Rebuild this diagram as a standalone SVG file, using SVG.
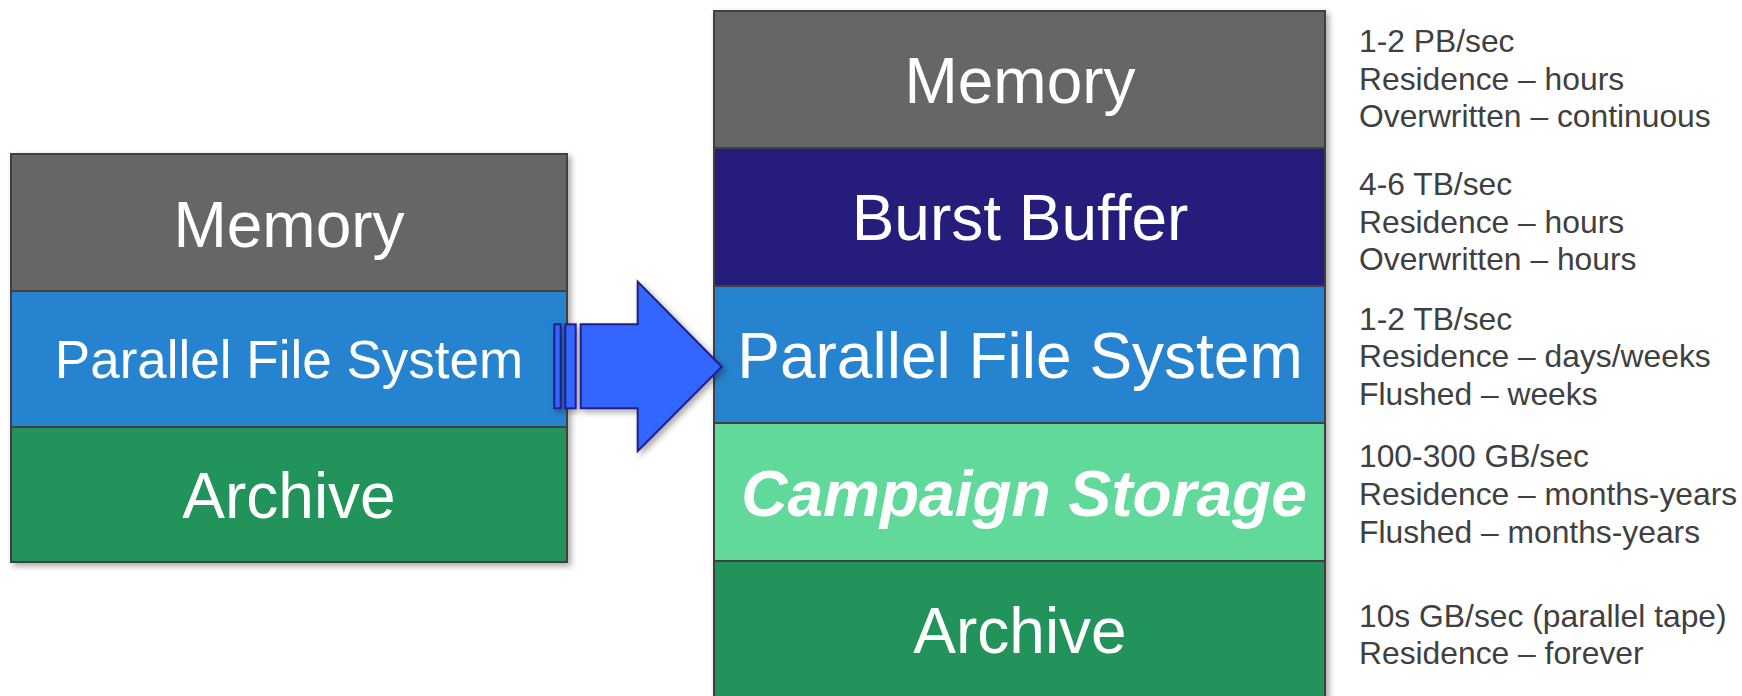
<svg xmlns="http://www.w3.org/2000/svg" width="1742" height="696" viewBox="0 0 1742 696">
  <defs>
    <filter id="shadow" x="-10%" y="-10%" width="120%" height="120%">
      <feDropShadow dx="3" dy="3" stdDeviation="3" flood-color="#000" flood-opacity="0.35"/>
    </filter>
  </defs>
  <style>
    .layer { stroke: #404040; stroke-width: 2; }
    .mem { fill: #666666; }
    .bb { fill: #251c7b; }
    .pfs { fill: #2883d0; }
    .cs { fill: #60d99a; }
    .arc { fill: #21935a; }
    .lbl { font-family: "Liberation Sans", Arial, sans-serif; fill: #ffffff; text-anchor: middle; }
    .big { font-size: 64px; }
    .mid { font-size: 53px; }
    .ital { font-weight: bold; font-style: italic; }
    .note { font-family: "Liberation Sans", Arial, sans-serif; font-size: 31.8px; fill: #404040; }
    .arrow { fill: #3366ff; stroke: #231f8c; stroke-width: 2; }
  </style>
  <rect width="1742" height="696" fill="#ffffff"/>

  <!-- Left stack -->
  <g id="left-stack" filter="url(#shadow)">
    <g id="left-memory">
      <rect class="layer mem" x="11" y="154" width="556" height="137"/>
      <text class="lbl big" x="289" y="247">Memory</text>
    </g>
    <g id="left-pfs">
      <rect class="layer pfs" x="11" y="291" width="556" height="136"/>
      <text class="lbl mid" x="289" y="378">Parallel File System</text>
    </g>
    <g id="left-archive">
      <rect class="layer arc" x="11" y="427" width="556" height="135"/>
      <text class="lbl big" x="289" y="518">Archive</text>
    </g>
  </g>

  <!-- Right stack -->
  <g id="right-stack" filter="url(#shadow)">
    <g id="right-memory">
      <rect class="layer mem" x="714" y="11" width="611" height="137"/>
      <text class="lbl big" x="1020" y="103">Memory</text>
    </g>
    <g id="right-burst-buffer">
      <rect class="layer bb" x="714" y="148" width="611" height="138"/>
      <text class="lbl big" x="1020" y="240">Burst Buffer</text>
    </g>
    <g id="right-pfs">
      <rect class="layer pfs" x="714" y="286" width="611" height="137"/>
      <text class="lbl big" x="1020" y="378">Parallel File System</text>
    </g>
    <g id="right-campaign-storage">
      <rect class="layer cs" x="714" y="423" width="611" height="138"/>
      <text class="lbl big ital" x="1024" y="516">Campaign Storage</text>
    </g>
    <g id="right-archive">
      <rect class="layer arc" x="714" y="561" width="611" height="140"/>
      <text class="lbl big" x="1020" y="653">Archive</text>
    </g>
  </g>

  <!-- Connector -->
  <g id="connectors" filter="url(#shadow)">
    <rect class="arrow" x="554.3" y="324.3" width="6.4" height="84"/>
    <rect class="arrow" x="565.3" y="324.3" width="10.4" height="84"/>
    <path class="arrow" d="M580.7,324.3 H637.7 V281.7 L721.7,366.7 L637.7,451 V408.3 H580.7 Z"/>
  </g>

  <!-- Notes -->
  <g id="note-memory">
    <text class="note" x="1359" y="52">1-2 PB/sec</text>
    <text class="note" x="1359" y="89.5">Residence – hours</text>
    <text class="note" x="1359" y="127">Overwritten – continuous</text>
  </g>
  <g id="note-burst-buffer">
    <text class="note" x="1359" y="195">4-6 TB/sec</text>
    <text class="note" x="1359" y="232.5">Residence – hours</text>
    <text class="note" x="1359" y="270">Overwritten – hours</text>
  </g>
  <g id="note-pfs">
    <text class="note" x="1359" y="329.5">1-2 TB/sec</text>
    <text class="note" x="1359" y="367">Residence – days/weeks</text>
    <text class="note" x="1359" y="405">Flushed – weeks</text>
  </g>
  <g id="note-campaign-storage">
    <text class="note" x="1359" y="467">100-300 GB/sec</text>
    <text class="note" x="1359" y="504.5">Residence – months-years</text>
    <text class="note" x="1359" y="542.5">Flushed – months-years</text>
  </g>
  <g id="note-archive">
    <text class="note" x="1359" y="627">10s GB/sec (parallel tape)</text>
    <text class="note" x="1359" y="664">Residence – forever</text>
  </g>
</svg>
